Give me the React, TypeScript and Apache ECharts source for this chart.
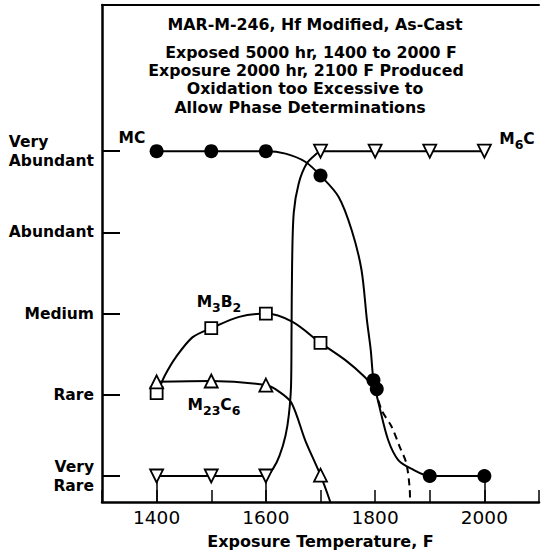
import React, { useEffect, useRef } from 'react';
import * as echarts from 'echarts';

// ---- axis definitions ----
const levelValues = [1, 2, 3, 4, 5];
const levelNames = ['Very\nRare', 'Rare', 'Medium', 'Abundant', 'Very\nAbundant'];
const xTickLabels = [1400, 1600, 1800, 2000];
const xMin = 1300;
const xMax = 2100;
const yMin = 0.68;
const yMax = 6.8;

// ---- plotted points (markers) ----
const mcTemps = [1400, 1500, 1600, 1700, 1797, 1803, 1900, 2000];
const mcLevels = [5, 5, 5, 4.7, 2.18, 2.07, 1.0, 1.0];

const m6cTemps = [1400, 1500, 1600, 1700, 1800, 1900, 2000];
const m6cLevels = [1, 1, 1, 5, 5, 5, 5];

const m3b2Temps = [1400, 1500, 1600, 1700];
const m3b2Levels = [2.02, 2.82, 3.0, 2.64];

const m23c6Temps = [1400, 1500, 1600, 1700];
const m23c6Levels = [2.16, 2.17, 2.12, 1.01];

// ---- faired curves ----
const mcCurveTemps = [1400, 1500, 1600, 1636, 1672, 1700, 1733, 1757, 1775, 1785, 1792, 1797, 1808, 1824, 1842, 1866, 1900, 2000];
const mcCurveLevels = [5, 5, 5, 4.97, 4.87, 4.7, 4.44, 4.03, 3.54, 2.92, 2.55, 2.18, 1.85, 1.44, 1.2, 1.09, 1.0, 1.0];

const m6cCurveTemps = [1400, 1500, 1600, 1614, 1625, 1636, 1642, 1646, 1647, 1648, 1651, 1660, 1675, 1693, 1700, 1800, 1900, 2000];
const m6cCurveLevels = [1, 1, 1, 1.1, 1.25, 1.5, 1.75, 2.1, 2.8, 3.6, 4.24, 4.6, 4.85, 4.97, 5, 5, 5, 5];

const m3b2CurveTemps = [1406, 1416, 1436, 1466, 1500, 1551, 1600, 1648, 1700, 1745, 1781, 1800];
const m3b2CurveLevels = [2.1, 2.25, 2.47, 2.71, 2.82, 2.96, 3.0, 2.9, 2.64, 2.43, 2.22, 2.07];

const m3b2DashTemps = [1800, 1812, 1830, 1845, 1857, 1863, 1864];
const m3b2DashLevels = [2.07, 1.81, 1.61, 1.36, 1.16, 0.87, 0.68];

const m23c6CurveTemps = [1400, 1500, 1600, 1624, 1647, 1672, 1700, 1718];
const m23c6CurveLevels = [2.16, 2.17, 2.12, 2.04, 1.9, 1.44, 1.01, 0.68];

const dropTemps = [1400, 1600, 2000];

const titleLines = [
  'MAR-M-246, Hf Modified, As-Cast',
  'Exposed 5000 hr, 1400 to 2000 F',
  'Exposure 2000 hr, 2100 F Produced',
  'Oxidation too Excessive to',
  'Allow Phase Determinations',
];

const xName = 'Exposure Temperature, F';

const FONT = '"DejaVu Sans", sans-serif';

const zip = (xs: number[], ys: number[]) => xs.map((x, i) => [x, ys[i]]);

const curve = (name: string, xs: number[], ys: number[], dashed = false) => ({
  name,
  type: 'line',
  data: zip(xs, ys),
  smooth: 0.3,
  showSymbol: false,
  symbol: 'none',
  lineStyle: { color: '#000', width: 2, type: dashed ? [7, 5] : 'solid' },
  z: 2,
  silent: true,
});

const subLabel = (parts: [string, boolean][], x: number, y: number) => ({
  type: 'text',
  x,
  y,
  style: {
    text: parts.map(([t, sub]) => `{${sub ? 's' : 'm'}|${t}}`).join(''),
    align: 'center',
    verticalAlign: 'middle',
    rich: {
      m: { fontFamily: FONT, fontWeight: 'bold', fontSize: 15.5, lineHeight: 22, fill: '#000' },
      s: { fontFamily: FONT, fontWeight: 'bold', fontSize: 12.5, lineHeight: 12, height: 12, verticalAlign: 'bottom', fill: '#000' },
    },
  },
});

export default function App() {
  const ref = useRef<HTMLDivElement>(null);
  useEffect(() => {
    if (!ref.current) return;
    const chart = echarts.init(ref.current, null, { renderer: 'svg' });
    const titleX = [315, 311, 306, 305, 300];
    const titleY = [24, 52, 70, 88.5, 107];
    const openMarker = { color: '#fff', borderColor: '#000', borderWidth: 1.8, opacity: 1 };
    const option: any = {
      animation: false,
      backgroundColor: '#fff',
      grid: { left: 102, right: 0, top: 5, bottom: 54, containLabel: false },
      xAxis: [
        {
          type: 'value',
          min: xMin,
          max: xMax,
          interval: 100,
          name: xName,
          nameLocation: 'middle',
          nameGap: 31,
          nameTextStyle: { fontFamily: FONT, fontWeight: 'bold', fontSize: 16, color: '#000' },
          axisLine: { show: true, onZero: false, lineStyle: { color: '#000', width: 2.5 } },
          axisTick: { show: true, inside: true, length: 12, lineStyle: { color: '#000', width: 1.5 } },
          axisLabel: {
            margin: 6,
            fontFamily: FONT,
            fontSize: 18.5,
            color: '#000',
            formatter: (v: number) => (xTickLabels.includes(v) ? String(v) : ''),
          },
          splitLine: { show: false },
        },
        {
          type: 'value',
          position: 'top',
          min: xMin,
          max: xMax,
          axisLine: { show: true, onZero: false, lineStyle: { color: '#000', width: 2 } },
          axisTick: { show: false },
          axisLabel: { show: false },
          splitLine: { show: false },
        },
      ],
      yAxis: {
        type: 'value',
        min: yMin,
        max: yMax,
        axisLine: { show: true, onZero: false, lineStyle: { color: '#000', width: 2.5 } },
        axisTick: { show: true, inside: true, length: 18, customValues: levelValues, lineStyle: { color: '#000', width: 2 } },
        axisLabel: {
          customValues: levelValues,
          margin: 8,
          fontFamily: FONT,
          fontWeight: 'bold',
          fontSize: 15.5,
          lineHeight: 19,
          color: '#000',
          formatter: (v: number) => {
            const i = levelValues.indexOf(v);
            if (i < 0) return '';
            const name = levelNames[i];
            if (i === levelValues.length - 1) {
              return name.split('\n').map((s) => `{l|${s}}`).join('\n');
            }
            return name;
          },
          rich: {
            l: { align: 'left', fontFamily: FONT, fontWeight: 'bold', fontSize: 15.5, lineHeight: 19, color: '#000' },
          },
        },
        splitLine: { show: false },
      },
      series: [
        curve('MC curve', mcCurveTemps, mcCurveLevels),
        curve('M6C curve', m6cCurveTemps, m6cCurveLevels),
        curve('M3B2 curve', m3b2CurveTemps, m3b2CurveLevels),
        curve('M3B2 extrapolated', m3b2DashTemps, m3b2DashLevels, true),
        curve('M23C6 curve', m23c6CurveTemps, m23c6CurveLevels),
        {
          name: 'M6C',
          type: 'scatter',
          data: zip(m6cTemps, m6cLevels),
          symbol: 'triangle',
          symbolRotate: 180,
          symbolSize: 13,
          itemStyle: openMarker,
          z: 5,
          markLine: {
            silent: true,
            symbol: 'none',
            label: { show: false },
            lineStyle: { color: '#000', width: 1.5, type: 'solid', opacity: 1 },
            data: dropTemps.map((t) => [{ coord: [t, yMin] }, { coord: [t, 1] }]),
          },
        },
        {
          name: 'M3B2',
          type: 'scatter',
          data: zip(m3b2Temps, m3b2Levels),
          symbol: 'rect',
          symbolSize: 12,
          itemStyle: openMarker,
          z: 5,
        },
        {
          name: 'M23C6',
          type: 'scatter',
          data: zip(m23c6Temps, m23c6Levels),
          symbol: 'triangle',
          symbolSize: 13,
          itemStyle: openMarker,
          z: 5,
        },
        {
          name: 'MC',
          type: 'scatter',
          data: zip(mcTemps, mcLevels),
          symbol: 'circle',
          symbolSize: 14,
          itemStyle: { color: '#000', opacity: 1 },
          z: 6,
        },
      ],
      graphic: [
        ...titleLines.map((t, i) => ({
          type: 'text',
          x: titleX[i],
          y: titleY[i],
          style: {
            text: t,
            align: 'center',
            verticalAlign: 'middle',
            fontFamily: FONT,
            fontWeight: 'bold',
            fontSize: 15.8,
            fill: '#000',
          },
        })),
        subLabel([['MC', false]], 132, 138),
        subLabel([['M', false], ['6', true], ['C', false]], 517, 139),
        subLabel([['M', false], ['3', true], ['B', false], ['2', true]], 219, 302),
        subLabel([['M', false], ['23', true], ['C', false], ['6', true]], 214, 405),
      ],
    };
    chart.setOption(option);
    return () => chart.dispose();
  }, []);
  return (
    <div
      ref={ref}
      style={{ position: 'absolute', left: 0, top: 0, width: 542, height: 556, background: '#fff' }}
    />
  );
}
